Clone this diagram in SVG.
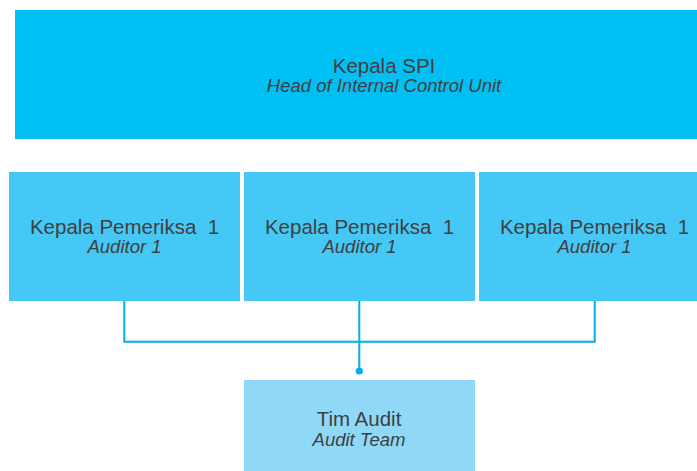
<svg xmlns="http://www.w3.org/2000/svg" width="697" height="471" viewBox="0 0 697 471">
<style>
.t{font-family:"Liberation Sans",Arial,sans-serif;fill:#404040;text-anchor:middle}
.m{font-size:20.5px}
.s{font-size:18.5px;font-style:italic}
.c{fill:none;stroke:#00AEEF;stroke-width:2}
</style>
<rect width="697" height="471" fill="#ffffff"/>
<g id="connectors">
<path class="c" d="M124.3,300 V341.7 H594.7 V300"/>
<path class="c" d="M359.3,300 V371"/>
<circle cx="359.3" cy="371" r="3.6" fill="#00AEEF"/>
</g>
<g id="kepala-spi">
<rect x="15" y="10" width="740" height="129" fill="#00BFF3"/>
<text class="t m" x="384" y="72.7">Kepala SPI</text>
<text class="t s" x="384" y="91.7">Head of Internal Control Unit</text>
</g>
<g id="auditor-1a">
<rect x="9" y="172" width="231" height="129" fill="#45C8F5"/>
<text class="t m" x="124.5" y="234" xml:space="preserve">Kepala Pemeriksa  1</text>
<text class="t s" x="124.5" y="253">Auditor 1</text>
</g>
<g id="auditor-1b">
<rect x="244" y="172" width="231" height="129" fill="#45C8F5"/>
<text class="t m" x="359.5" y="234" xml:space="preserve">Kepala Pemeriksa  1</text>
<text class="t s" x="359.5" y="253">Auditor 1</text>
</g>
<g id="auditor-1c">
<rect x="479" y="172" width="231" height="129" fill="#45C8F5"/>
<text class="t m" x="594.5" y="234" xml:space="preserve">Kepala Pemeriksa  1</text>
<text class="t s" x="594.5" y="253">Auditor 1</text>
</g>
<g id="tim-audit">
<rect x="244" y="380" width="231" height="91" fill="#8FD8F7"/>
<text class="t m" x="359" y="426">Tim Audit</text>
<text class="t s" x="359" y="446">Audit Team</text>
</g>
</svg>
